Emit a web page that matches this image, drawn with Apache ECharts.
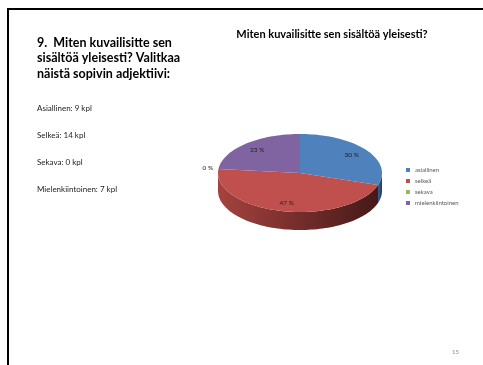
<!DOCTYPE html>
<html>
<head>
<meta charset="utf-8">
<script src="https://cdn.jsdelivr.net/npm/echarts@6/dist/echarts.min.js"></script>
<style>
  html, body { margin: 0; padding: 0; background: #fff; }
  #chart { width: 483px; height: 365px; }
</style>
</head>
<body>
<div id="chart"></div>
<script>
// data
const categories = ['asiallinen', 'selkeä', 'sekava', 'mielenkiintoinen']
const counts = [9, 14, 0, 7]
const summaryNames = ['Asiallinen', 'Selkeä', 'Sekava', 'Mielenkiintoinen']
const slideTitle = '9.  Miten kuvailisitte sen\nsisältöä yleisesti? Valitkaa\nnäistä sopivin adjektiivi:'
const chartTitle = 'Miten kuvailisitte sen sisältöä yleisesti?'
const pageNumber = '15'

const colors = ['#4F81BD', '#C0504D', '#9BBB59', '#8064A2']
const sideColors = [
  ['#3a6190', '#243d5e'],
  ['#a5423f', '#451918'],
  ['#76913f', '#4a5c26'],
  ['#614a7e', '#3b2c4f']
]

// pie geometry (tilted ellipse + wall)
const CX = 300, CY = 173, RX = 82, RY = 39, DEPTH = 18

const total = counts.reduce((a, b) => a + b, 0)

function arc(a0, a1, dy) {
  const pts = []
  const steps = Math.max(2, Math.ceil(Math.abs(a1 - a0) / 2))
  for (let s = 0; s <= steps; s++) {
    const t = (a0 + (a1 - a0) * s / steps) * Math.PI / 180
    pts.push([CX + RX * Math.sin(t), CY - RY * Math.cos(t) + dy])
  }
  return pts
}

function makeRender(i) {
  return function (params, api) {
    let before = 0
    for (let j = 0; j < i; j++) before += counts[j]
    const a0 = before / total * 360
    const a1 = (before + counts[i]) / total * 360
    const children = []
    if (a1 > a0) {
      const s0 = Math.max(a0, 90), s1 = Math.min(a1, 270)
      if (s1 > s0) {
        children.push({
          type: 'polygon',
          z2: 1,
          shape: { points: arc(s0, s1, 0).concat(arc(s1, s0, DEPTH)) },
          style: {
            fill: new echarts.graphic.LinearGradient(0, 0, 1, 0, [
              { offset: 0, color: sideColors[i][0] },
              { offset: 1, color: sideColors[i][1] }
            ])
          }
        })
      }
      children.push({
        type: 'polygon',
        z2: 5,
        shape: { points: [[CX, CY]].concat(arc(a0, a1, 0)) },
        style: { fill: colors[i] }
      })
    }
    const mid = (a0 + a1) / 2 * Math.PI / 180
    const k = counts[i] ? 0.78 : 1.13
    children.push({
      type: 'text',
      z2: 10,
      style: {
        text: Math.round(counts[i] / total * 100) + ' %',
        x: CX + k * RX * Math.sin(mid),
        y: CY - k * RY * Math.cos(mid),
        align: 'center',
        verticalAlign: 'middle',
        font: '6.5px Lato',
        fill: '#222'
      }
    })
    return { type: 'group', children }
  }
}

const chart = echarts.init(document.getElementById('chart'))

const graphics = [
  { type: 'line', shape: { x1: 7, y1: 9, x2: 483, y2: 9 }, style: { stroke: '#000', lineWidth: 2 } },
  { type: 'line', shape: { x1: 8, y1: 8, x2: 8, y2: 365 }, style: { stroke: '#000', lineWidth: 2 } },
  {
    type: 'text', left: 452, top: 349,
    style: { text: pageNumber, font: '6px Lato', fill: '#8c8c8c' }
  }
]
summaryNames.forEach((name, i) => {
  graphics.push({
    type: 'text',
    x: 37,
    y: 108 + i * 27,
    style: {
      text: name + ': ' + counts[i] + ' kpl',
      font: '8px Lato',
      fill: '#222',
      verticalAlign: 'middle'
    }
  })
})

chart.setOption({
  animation: false,
  textStyle: { fontFamily: 'Lato' },
  title: [
    {
      text: slideTitle,
      left: 37,
      top: 35,
      padding: 0,
      textStyle: { fontSize: 12.5, fontWeight: 'bold', lineHeight: 15.5, color: '#000' }
    },
    {
      text: chartTitle,
      left: 332,
      top: 29,
      textAlign: 'center',
      padding: 0,
      textStyle: { fontSize: 11, fontWeight: 'bold', color: '#000' }
    }
  ],
  legend: {
    orient: 'vertical',
    left: 406,
    top: 167,
    padding: 0,
    icon: 'rect',
    itemWidth: 4,
    itemHeight: 4,
    itemGap: 5,
    data: categories,
    textStyle: { fontSize: 6, color: '#595959' }
  },
  graphic: graphics,
  series: categories.map((name, i) => ({
    type: 'custom',
    name: name,
    coordinateSystem: 'none',
    itemStyle: { color: colors[i] },
    silent: true,
    data: [[counts[i]]],
    renderItem: makeRender(i)
  }))
})
</script>
</body>
</html>
